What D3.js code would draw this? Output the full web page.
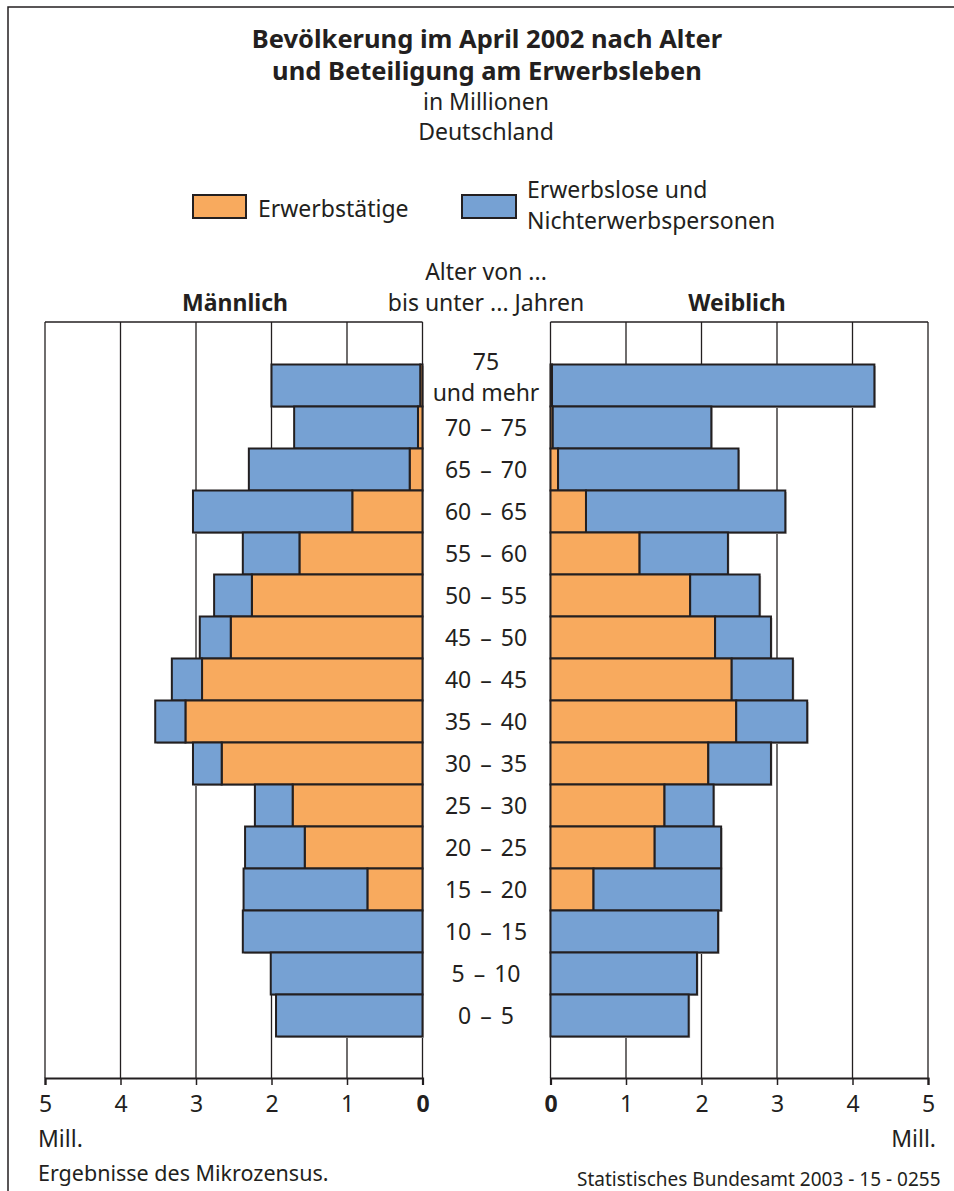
<!DOCTYPE html>
<html>
<head>
<meta charset="utf-8">
<script src="https://cdn.jsdelivr.net/npm/d3@7"></script>
<style>
  body { margin: 0; background: #fff; }
  svg { display: block; font-family: "Noto Sans", sans-serif; }
</style>
</head>
<body>
<svg id="chart" width="954" height="1191"></svg>
<script>
// age groups, oldest on top
const ageGroups = ["75+", "70-75", "65-70", "60-65", "55-60", "50-55", "45-50", "40-45",
  "35-40", "30-35", "25-30", "20-25", "15-20", "10-15", "5-10", "0-5"];
const ageLabels = [["75", "und mehr"], ["70 – 75"], ["65 – 70"], ["60 – 65"], ["55 – 60"],
  ["50 – 55"], ["45 – 50"], ["40 – 45"], ["35 – 40"], ["30 – 35"], ["25 – 30"],
  ["20 – 25"], ["15 – 20"], ["10 – 15"], ["5 – 10"], ["0 – 5"]];

// Mill. persons
const maleEmployed = [0.03, 0.06, 0.17, 0.93, 1.63, 2.26, 2.54, 2.92, 3.14, 2.66, 1.72, 1.56, 0.73, 0, 0, 0];
const maleOther    = [1.97, 1.64, 2.13, 2.11, 0.75, 0.50, 0.41, 0.40, 0.40, 0.38, 0.50, 0.79, 1.64, 2.38, 2.01, 1.94];
const femaleEmployed = [0.02, 0.03, 0.10, 0.47, 1.18, 1.85, 2.18, 2.40, 2.46, 2.09, 1.51, 1.38, 0.57, 0, 0, 0];
const femaleOther    = [4.27, 2.10, 2.39, 2.64, 1.17, 0.92, 0.74, 0.81, 0.94, 0.83, 0.65, 0.88, 1.69, 2.22, 1.94, 1.83];

const ticks = [0, 1, 2, 3, 4, 5];
const seriesNames = ["Erwerbstätige", ["Erwerbslose und", "Nichterwerbspersonen"]];
const colors = { employed: "#f8aa5e", other: "#76a1d3" };

const svg = d3.select("#chart");
const ink = "#231f20";

// outer frame (runs off the right and bottom edge)
svg.append("rect").attr("x", 8).attr("y", 7).attr("width", 960).attr("height", 1200)
  .attr("fill", "none").attr("stroke", ink).attr("stroke-width", 1.5);

// titles
const title = svg.append("g").attr("text-anchor", "middle").attr("fill", ink);
title.append("text").attr("x", 487).attr("y", 48).attr("font-size", 25.5).attr("font-weight", "bold")
  .text("Bevölkerung im April 2002 nach Alter");
title.append("text").attr("x", 487).attr("y", 80).attr("font-size", 25.5).attr("font-weight", "bold")
  .text("und Beteiligung am Erwerbsleben");
title.append("text").attr("x", 486).attr("y", 110).attr("font-size", 23).text("in Millionen");
title.append("text").attr("x", 486).attr("y", 140).attr("font-size", 23).text("Deutschland");

// legend
const legend = svg.append("g").attr("fill", ink).attr("font-size", 23);
legend.append("rect").attr("x", 193).attr("y", 195).attr("width", 53).attr("height", 23)
  .attr("fill", colors.employed).attr("stroke", ink).attr("stroke-width", 2);
legend.append("text").attr("x", 258).attr("y", 217).text(seriesNames[0]);
legend.append("rect").attr("x", 462).attr("y", 195).attr("width", 54).attr("height", 23)
  .attr("fill", colors.other).attr("stroke", ink).attr("stroke-width", 2);
legend.append("text").attr("x", 527).attr("y", 198).text(seriesNames[1][0]);
legend.append("text").attr("x", 527).attr("y", 229).text(seriesNames[1][1]);

// column headers
svg.append("text").attr("x", 486).attr("y", 280).attr("text-anchor", "middle")
  .attr("font-size", 23).attr("fill", ink).text("Alter von ...");
svg.append("text").attr("x", 486).attr("y", 311).attr("text-anchor", "middle")
  .attr("font-size", 23).attr("fill", ink).text("bis unter ... Jahren");
svg.append("text").attr("x", 235).attr("y", 311).attr("text-anchor", "middle")
  .attr("font-size", 23).attr("font-weight", "bold").attr("fill", ink).text("Männlich");
svg.append("text").attr("x", 737).attr("y", 311).attr("text-anchor", "middle")
  .attr("font-size", 23).attr("font-weight", "bold").attr("fill", ink).text("Weiblich");

// scales
const panelTop = 322, axisY = 1078;
const y = d3.scaleBand().domain(ageGroups).range([364.5, 1036.5]).padding(0);
const xL = d3.scaleLinear().domain([0, 5]).range([422.5, 45]);
const xR = d3.scaleLinear().domain([0, 5]).range([550.5, 928]);

function panel(x, employed, other) {
  const g = svg.append("g");
  // grid + frame
  g.selectAll(".grid").data(ticks).enter().append("line")
    .attr("x1", d => x(d)).attr("x2", d => x(d))
    .attr("y1", panelTop).attr("y2", axisY)
    .attr("stroke", ink).attr("stroke-width", 1.3);
  g.append("line").attr("x1", x(0)).attr("x2", x(5)).attr("y1", panelTop).attr("y2", panelTop)
    .attr("stroke", ink).attr("stroke-width", 1.3);

  const rows = ageGroups.map((a, i) => ({ age: a, emp: employed[i], oth: other[i] }));
  const bars = g.selectAll(".row").data(rows).enter().append("g");
  // faint print shadow
  bars.append("rect")
    .attr("x", d => Math.min(x(0), x(d.emp + d.oth)) + 1.5)
    .attr("y", d => y(d.age) + 1.5)
    .attr("width", d => Math.abs(x(d.emp + d.oth) - x(0)))
    .attr("height", y.bandwidth())
    .attr("fill", "#b8b8b8");
  bars.filter(d => d.emp > 0).append("rect")
    .attr("x", d => Math.min(x(0), x(d.emp)))
    .attr("y", d => y(d.age))
    .attr("width", d => Math.abs(x(d.emp) - x(0)))
    .attr("height", y.bandwidth())
    .attr("fill", colors.employed).attr("stroke", ink).attr("stroke-width", 2);
  bars.append("rect")
    .attr("x", d => Math.min(x(d.emp), x(d.emp + d.oth)))
    .attr("y", d => y(d.age))
    .attr("width", d => Math.abs(x(d.emp + d.oth) - x(d.emp)))
    .attr("height", y.bandwidth())
    .attr("fill", colors.other).attr("stroke", ink).attr("stroke-width", 2);

  // axis
  const axis = g.append("g").attr("transform", `translate(0,${axisY})`)
    .call(d3.axisBottom(x).tickValues(ticks).tickSize(7).tickPadding(11).tickFormat(d3.format("d")));
  axis.select(".domain").attr("stroke", ink).attr("stroke-width", 2.2);
  axis.selectAll(".tick line").attr("stroke", ink).attr("stroke-width", 1.5);
  axis.selectAll(".tick text").attr("font-size", 23).attr("fill", ink)
    .attr("font-family", "Noto Sans, sans-serif")
    .attr("font-weight", d => d === 0 ? "bold" : "normal");
}

panel(xL, maleEmployed, maleOther);
panel(xR, femaleEmployed, femaleOther);

// age labels in the middle
const lab = svg.append("g").attr("text-anchor", "middle").attr("font-size", 23).attr("fill", ink);
ageGroups.forEach((a, i) => {
  const lines = ageLabels[i];
  const cy = y(a) + y.bandwidth() / 2;
  if (lines.length === 1) {
    lab.append("text").attr("x", 486).attr("y", cy + 8).attr("word-spacing", 3).text(lines[0]);
  } else {
    lab.append("text").attr("x", 486).attr("y", cy - 16).text(lines[0]);
    lab.append("text").attr("x", 486).attr("y", cy + 15).text(lines[1]);
  }
});

// units and notes
svg.append("text").attr("x", 38).attr("y", 1147).attr("font-size", 23).attr("fill", ink).text("Mill.");
svg.append("text").attr("x", 936).attr("y", 1147).attr("text-anchor", "end")
  .attr("font-size", 23).attr("fill", ink).text("Mill.");
svg.append("text").attr("x", 38).attr("y", 1181).attr("font-size", 21.5).attr("fill", ink)
  .text("Ergebnisse des Mikrozensus.");
svg.append("text").attr("x", 577).attr("y", 1186).attr("font-size", 19).attr("fill", ink)
  .text("Statistisches Bundesamt 2003 - 15 - 0255");
</script>
</body>
</html>
